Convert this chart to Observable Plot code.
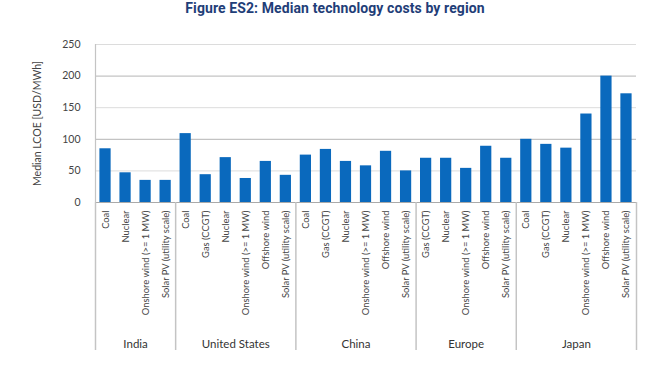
<!DOCTYPE html>
<html><head><meta charset="utf-8">
<script src="https://cdn.jsdelivr.net/npm/d3@7"></script>
<script src="https://cdn.jsdelivr.net/npm/@observablehq/plot@0.6"></script>
<style>
body{margin:0;background:#fff;width:670px;height:374px;overflow:hidden}
#title{height:28px;line-height:28px;text-align:center;font:bold 14px "Liberation Sans Narrow","Roboto",sans-serif;color:#1f3e78;letter-spacing:0.1px}
#chart svg{display:block}
</style></head><body>
<div id="title">Figure ES2: Median technology costs by region</div>
<div id="chart"></div>
<script>
const regions = ["India", "United States", "China", "Europe", "Japan"];
const technologies = [
  ["Coal", "Nuclear", "Onshore wind (>= 1 MW)", "Solar PV (utility scale)"],
  ["Coal", "Gas (CCGT)", "Nuclear", "Onshore wind (>= 1 MW)", "Offshore wind", "Solar PV (utility scale)"],
  ["Coal", "Gas (CCGT)", "Nuclear", "Onshore wind (>= 1 MW)", "Offshore wind", "Solar PV (utility scale)"],
  ["Gas (CCGT)", "Nuclear", "Onshore wind (>= 1 MW)", "Offshore wind", "Solar PV (utility scale)"],
  ["Coal", "Gas (CCGT)", "Nuclear", "Onshore wind (>= 1 MW)", "Offshore wind", "Solar PV (utility scale)"]
];
const lcoe = [
  [85, 47, 35, 35],
  [109, 44, 71, 38, 65, 43],
  [75, 84, 65, 58, 81, 50],
  [70, 70, 54, 89, 70],
  [100, 92, 86, 140, 200, 172]
];
const yTicks = [0, 50, 100, 150, 200, 250];

const rows = [];
const groups = [];
regions.forEach((r, ri) => {
  const start = rows.length;
  technologies[ri].forEach((t, ti) => rows.push({region: r, tech: t, value: lcoe[ri][ti], i: rows.length}));
  groups.push({region: r, start: start - 0.5, end: rows.length - 0.5, mid: (start + rows.length - 1) / 2});
});
const bounds = [groups[0].start, ...groups.map(g => g.end)];

const W = 670, H = 346, mt = 16, mb = 172;
const innerH = H - mt - mb;

const chart = Plot.plot({
  width: W, height: H,
  marginLeft: 95, marginRight: 34, marginTop: mt, marginBottom: mb,
  style: {fontFamily: "Lato, 'Open Sans', sans-serif", background: "#fff", overflow: "visible"},
  x: {type: "linear", domain: [-0.5, rows.length - 0.5]},
  y: {domain: [0, 250]},
  marks: [
    Plot.ruleY(yTicks.filter(v => v > 0), {y: d => d, stroke: d => d % 100 === 0 ? "#b5b5b5" : "#dcdcdc", strokeWidth: 1}),
    Plot.rectY(rows, {x1: d => d.i - 0.28, x2: d => d.i + 0.28, y: "value", fill: "#0a69bd"}),
    Plot.ruleY([0], {stroke: "#aaaaaa", strokeWidth: 1.2}),
    Plot.ruleX([groups[0].start], {stroke: "#c4c4c4", strokeWidth: 1.2}),
    Plot.ruleX(bounds, {x: d => d, stroke: "#c4c4c4", strokeWidth: 1.5, insetTop: innerH, insetBottom: -148}),
    Plot.axisY({ticks: yTicks, tickSize: 0, tickPadding: 15, fontSize: 10.5, color: "#444",
      label: "Median LCOE [USD/MWh]", labelAnchor: "center", labelArrow: "none", labelOffset: 62}),
    Plot.axisX({ticks: rows.map(d => d.i), tickFormat: i => rows[i].tech, tickSize: 0, tickPadding: 8,
      tickRotate: -90, fontSize: 9.4, color: "#444", label: null}),
    Plot.text(groups, {x: "mid", text: "region", frameAnchor: "bottom", dy: 145, fontSize: 11.5, fill: "#333"})
  ]
});
document.getElementById("chart").appendChild(chart);
</script>
</body></html>
